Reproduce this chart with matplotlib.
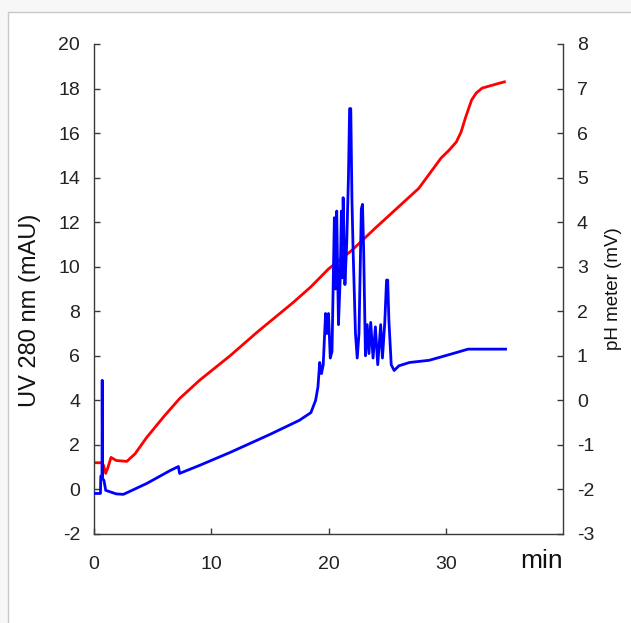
import matplotlib.pyplot as plt
from matplotlib.patches import Rectangle

plt.rcParams['font.family'] = ['Liberation Sans', 'DejaVu Sans']
plt.rcParams['axes.unicode_minus'] = False

# UV 280 nm trace (mAU) vs time (min)
uv_time = [0, 0.55, 0.58, 0.68, 0.7, 0.73, 0.85, 1.0, 1.9, 2.5, 3.0, 4.5, 6.5, 7.2, 7.3,
           9.0, 11.6, 15, 17.5, 18.5, 18.9, 19.1, 19.25, 19.4, 19.55, 19.75, 19.85, 20.0,
           20.15, 20.3, 20.5, 20.6, 20.7, 20.85, 21.0, 21.1, 21.2, 21.25, 21.4, 21.55, 21.7,
           21.8, 21.9, 22.0, 22.1, 22.3, 22.45, 22.6, 22.8, 22.9, 23.0, 23.15, 23.3, 23.45,
           23.6, 23.8, 24.0, 24.2, 24.45, 24.6, 24.8, 24.95, 25.05, 25.15, 25.35, 25.6,
           26.0, 26.9, 28.6, 30.6, 31.9, 33.0, 35.1]
uv_mau = [-0.18, -0.18, 0.6, 0.6, 4.9, 0.5, 0.4, -0.04, -0.2, -0.22, -0.1, 0.27, 0.85, 1.03, 0.72,
          1.08, 1.66, 2.47, 3.1, 3.45, 4.0, 4.6, 5.7, 5.2, 5.6, 7.9, 7.0, 7.9,
          5.9, 6.2, 12.2, 9.0, 12.5, 7.4, 9.5, 12.5, 9.5, 13.1, 9.2, 11.0, 14.0,
          17.1, 17.1, 13.0, 10.7, 7.0, 5.9, 7.0, 12.6, 12.8, 10.7, 6.0, 7.4, 6.1,
          7.5, 5.9, 7.3, 5.6, 7.4, 5.9, 7.5, 9.4, 9.4, 7.6, 5.6, 5.34,
          5.55, 5.7, 5.8, 6.1, 6.3, 6.3, 6.3]

# pH meter trace (mV) vs time (min)
ph_time = [0, 0.6, 0.8, 1.0, 1.2, 1.45, 1.9, 2.8, 3.5, 4.5, 6, 7.3, 9, 11.6, 14, 17, 18.5,
           20, 22, 24, 25, 27.7, 29.6, 30.3, 30.9, 31.3, 31.7, 32.2, 32.6, 33.1, 34.3, 35.0]
ph_mv = [-1.40, -1.40, -1.45, -1.64, -1.5, -1.28, -1.35, -1.37, -1.2, -0.83, -0.35, 0.04, 0.45,
         1.0, 1.55, 2.2, 2.55, 2.95, 3.37, 3.87, 4.11, 4.76, 5.44, 5.62, 5.8, 6.02, 6.36, 6.74,
         6.9, 7.01, 7.1, 7.15]

x_ticks = [0, 10, 20, 30]
uv_ticks = list(range(-2, 21, 2))
ph_ticks = list(range(-3, 9))

fig = plt.figure(figsize=(6.31, 6.23), dpi=100)
fig.patch.set_facecolor('#f7f7f7')
# light frame around the plot area (drawn behind the axes)
fig.patches.append(Rectangle((8 / 631, -0.1), 1.2, 1 - 12 / 623 + 0.1,
                             transform=fig.transFigure, facecolor='white',
                             edgecolor='#c8c8c8', linewidth=1, zorder=-5))

ax = fig.add_axes([94 / 631, 1 - 534 / 623, 469 / 631, 490 / 623])
ax2 = ax.twinx()

ax.plot(uv_time, uv_mau, color='#0000ff', linewidth=2.0, zorder=3)
ax2.plot(ph_time, ph_mv, color='#ff0000', linewidth=2.0)

ax.set_xlim(0, 40)
ax.set_ylim(-2, 20)
ax2.set_ylim(-3, 8)
ax.set_xticks(x_ticks)
ax.set_yticks(uv_ticks)
ax2.set_yticks(ph_ticks)

spine_col = '#3a3a3a'
for a in (ax, ax2):
    a.spines['top'].set_visible(False)
    for s in a.spines.values():
        s.set_color(spine_col)
        s.set_linewidth(1.0)
ax.spines['right'].set_visible(False)
ax2.spines['left'].set_visible(False)
ax2.spines['bottom'].set_visible(False)

ax.tick_params(axis='y', direction='in', length=4.5, width=1, color=spine_col,
               labelsize=14, labelcolor='#222222', pad=10)
ax.tick_params(axis='x', direction='in', length=4, width=1, color=spine_col,
               labelsize=14, labelcolor='#222222', pad=16)
ax2.tick_params(axis='y', direction='in', length=4.5, width=1, color=spine_col,
                labelsize=14, labelcolor='#222222', pad=10)

# put the blue trace above the red one
ax2.patch.set_visible(False)
ax.patch.set_visible(False)
ax.set_zorder(ax2.get_zorder() + 1)

fig.text(30 / 631, 1 - 310 / 623, 'UV 280 nm (mAU)', rotation=90, ha='center', va='center',
         fontsize=17, color='#111111',
         bbox=dict(facecolor='white', edgecolor='none', pad=1))
fig.text(614 / 631, 1 - 289 / 623, 'pH meter (mV)', rotation=90, ha='center', va='center',
         fontsize=13.5, color='#111111')
fig.text(563 / 631, 1 - 568 / 623, 'min', ha='right', va='baseline', fontsize=19,
         color='#111111')

fig.savefig('out.png', dpi=100, facecolor=fig.get_facecolor())
